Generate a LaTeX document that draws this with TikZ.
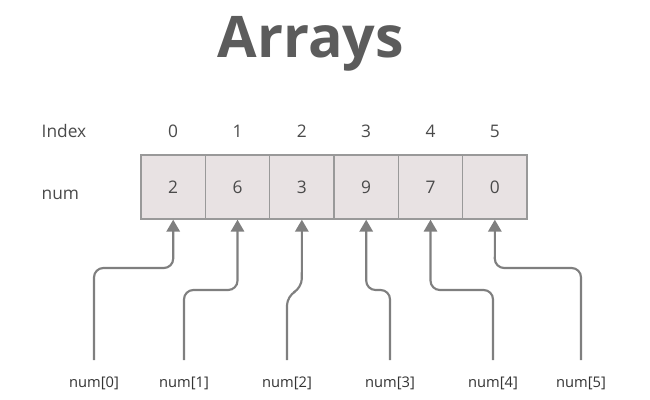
\documentclass[tikz,border=0pt]{standalone}
\usepackage{fontspec}
\setmainfont{Open Sans}
\usetikzlibrary{arrows.meta}
\definecolor{txt}{HTML}{4A4A4A}
\definecolor{ln}{HTML}{7F7F7F}
\definecolor{cellf}{HTML}{E8E2E3}
\begin{document}
\begin{tikzpicture}[x=0.75pt,y=-0.75pt,
  cell/.style={draw=ln!80,fill=cellf,line width=1pt,minimum width=48.25pt,minimum height=48pt,inner sep=0pt,text=txt,font=\fontsize{13}{15}\selectfont},
  lab/.style={text=txt,font=\fontsize{13}{15}\selectfont},
  small/.style={text=black!80,font=\fontsize{11}{13}\selectfont},
  conn/.style={draw=ln,line width=1.6pt,rounded corners=7pt,-{Triangle[length=9pt,width=10pt]}}]
\useasboundingbox (0,0) rectangle (650,400);
\node[text=txt!90,font=\fontsize{43}{50}\bfseries] (title) at (311,44) {Arrays};
\node[lab,anchor=west] (idx) at (37,131) {Index};
\node[lab,anchor=west] (numl) at (37,195) {num};
\foreach \i/\v in {0/2,1/6,2/3,3/9,4/7,5/0}{
  \node[cell] (c\i) at ({173.2+64.33*\i},187) {\v};
  \node[lab] (i\i) at ({173.2+64.33*\i},131) {\i};
}
\foreach \i/\x in {0/94,1/184,2/287,3/390,4/493,5/581}{
  \node[small] (n\i) at (\x,383) {num[\i]};
  \coordinate (s\i) at (\x,360);
}
\draw[conn] (s0) -- (94,268) -- (173.2,268) -- (c0.south);
\draw[conn] (s1) -- (184,290) -- (237.5,290) -- (c1.south);
\draw[conn] (s2) -- (287,296) -- (301.8,288) -- (c2.south);
\draw[conn] (s3) -- (390,290) -- (366.2,290) -- (c3.south);
\draw[conn] (s4) -- (493,290) -- (430.5,290) -- (c4.south);
\draw[conn] (s5) -- (581,268) -- (494.8,268) -- (c5.south);
\end{tikzpicture}
\end{document}
